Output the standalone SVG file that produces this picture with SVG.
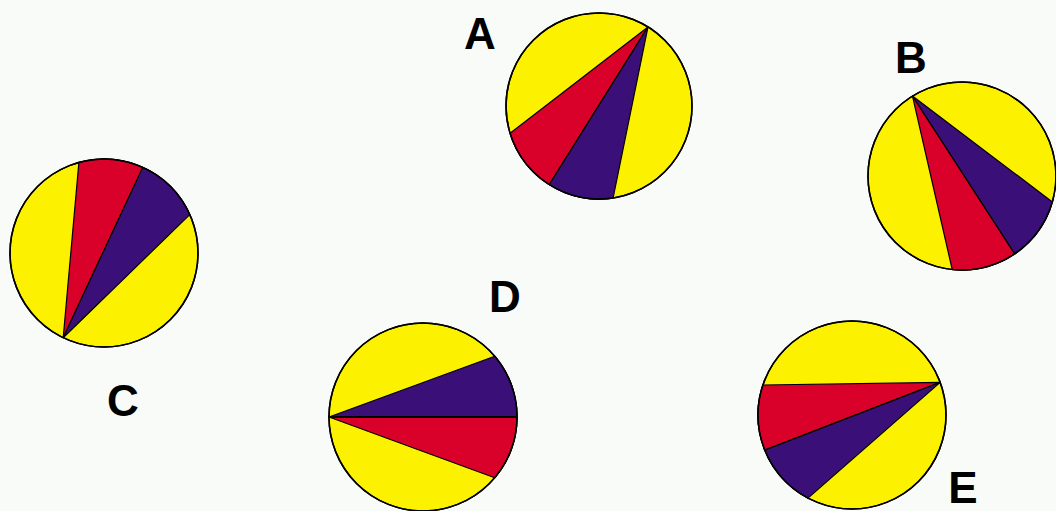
<svg xmlns="http://www.w3.org/2000/svg" width="1056" height="511" viewBox="0 0 1056 511">
<style>
.bg{fill:#f9fbf8}
.disc{fill:#fcf200;stroke:#000;stroke-width:1.5}
.red{fill:#d9002a;stroke:#000;stroke-width:1.2;stroke-linejoin:round}
.pur{fill:#3b0f78;stroke:#000;stroke-width:1.2;stroke-linejoin:round}
.lbl{font-family:"Liberation Sans",Arial,sans-serif;font-weight:bold;font-size:44px;fill:#000;text-anchor:middle}
</style>
<rect class="bg" x="0" y="0" width="1056" height="511"/>
<g id="A">
<circle class="disc" cx="599" cy="106" r="93"/>
<path class="red" d="M648,26.9 L510.1,133.2 A93,93 0 0 0 549.3,184.6 Z"/>
<path class="pur" d="M648,26.9 L549.3,184.6 A93,93 0 0 0 613.1,198 Z"/>
<circle cx="599" cy="106" r="93" fill="none" stroke="#000" stroke-width="1.5"/>
<text class="lbl" x="480" y="49">A</text>
</g>
<g id="B">
<circle class="disc" cx="962" cy="176" r="94"/>
<path class="pur" d="M912.5,96.1 L1052.4,201.9 A94,94 0 0 1 1014.6,253.9 Z"/>
<path class="red" d="M912.5,96.1 L1014.6,253.9 A94,94 0 0 1 952.2,269.5 Z"/>
<circle cx="962" cy="176" r="94" fill="none" stroke="#000" stroke-width="1.5"/>
<text class="lbl" x="911" y="73">B</text>
</g>
<g id="C">
<circle class="disc" cx="104" cy="253" r="94"/>
<path class="red" d="M63.2,337.7 L78.9,162.4 A94,94 0 0 1 142.8,167.4 Z"/>
<path class="pur" d="M63.2,337.7 L142.8,167.4 A94,94 0 0 1 189.8,214.6 Z"/>
<circle cx="104" cy="253" r="94" fill="none" stroke="#000" stroke-width="1.5"/>
<text class="lbl" x="123" y="416">C</text>
</g>
<g id="D">
<circle class="disc" cx="423" cy="417" r="94"/>
<path class="pur" d="M329,417 L494.7,356.2 A94,94 0 0 1 517,417 Z"/>
<path class="red" d="M329,417 L517,417 A94,94 0 0 1 494.7,477.8 Z"/>
<line x1="329" y1="417" x2="517" y2="417" stroke="#000" stroke-width="2.2"/>
<circle cx="423" cy="417" r="94" fill="none" stroke="#000" stroke-width="1.5"/>
<text class="lbl" x="505" y="312">D</text>
</g>
<g id="E">
<circle class="disc" cx="852" cy="415" r="94"/>
<path class="red" d="M940.2,382.4 L762.9,385 A94,94 0 0 0 764.8,450.1 Z"/>
<path class="pur" d="M940.2,382.4 L764.8,450.1 A94,94 0 0 0 808,498.1 Z"/>
<circle cx="852" cy="415" r="94" fill="none" stroke="#000" stroke-width="1.5"/>
<text class="lbl" x="963" y="503">E</text>
</g>
<g id="connectors"/>
</svg>
